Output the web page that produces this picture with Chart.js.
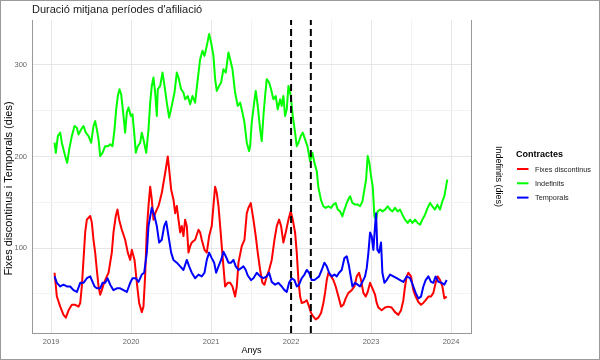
<!DOCTYPE html>
<html><head><meta charset="utf-8">
<script src="https://cdn.jsdelivr.net/npm/chart.js@4"></script>
<style>html,body{margin:0;padding:0;background:#fff}canvas{display:block}</style>
</head><body>
<canvas id="c" width="600" height="360"></canvas>
<script>
const chartTitle = "Duració mitjana períodes d'afiliació";
const leftAxisTitle = "Fixes discontinus i Temporals (dies)";
const seriesNames = ["Fixes discontinus", "Indefinits", "Temporals"];
const seriesColors = ["#ff0000", "#00ff00", "#0000ff"];
const yearTicks = [2019, 2020, 2021, 2022, 2023, 2024];
const leftTicks = [100, 200, 300];
const rightTicks = [500, 1000, 1500];
const eventYears = [2022.0, 2022.247];

const fixesYears = [2019.042,2019.071,2019.113,2019.154,2019.183,2019.217,2019.258,2019.300,2019.342,2019.363,
2019.383,2019.404,2019.425,2019.446,2019.488,2019.508,2019.529,2019.550,2019.571,2019.592,
2019.613,2019.633,2019.654,2019.675,2019.717,2019.758,2019.779,2019.808,2019.829,2019.850,
2019.883,2019.925,2019.958,2019.988,2020.008,2020.042,2020.071,2020.100,2020.133,2020.154,
2020.175,2020.196,2020.217,2020.238,2020.258,2020.279,2020.300,2020.321,2020.342,2020.363,
2020.383,2020.404,2020.433,2020.458,2020.475,2020.500,2020.529,2020.550,2020.571,2020.592,
2020.613,2020.633,2020.654,2020.675,2020.696,2020.717,2020.738,2020.758,2020.800,2020.842,
2020.863,2020.883,2020.917,2020.946,2020.975,2021.008,2021.029,2021.050,2021.071,2021.092,
2021.113,2021.133,2021.154,2021.175,2021.208,2021.238,2021.267,2021.300,2021.321,2021.342,
2021.383,2021.417,2021.446,2021.467,2021.496,2021.529,2021.558,2021.583,2021.613,2021.642,
2021.667,2021.696,2021.725,2021.758,2021.792,2021.821,2021.850,2021.875,2021.904,2021.933,
2021.967,2021.996,2022.021,2022.050,2022.071,2022.092,2022.113,2022.133,2022.167,2022.196,
2022.225,2022.250,2022.279,2022.308,2022.342,2022.375,2022.404,2022.425,2022.446,2022.467,
2022.500,2022.529,2022.558,2022.592,2022.625,2022.654,2022.683,2022.717,2022.758,2022.792,
2022.821,2022.850,2022.875,2022.904,2022.933,2022.958,2022.988,2023.017,2023.050,2023.071,
2023.092,2023.133,2023.175,2023.217,2023.258,2023.300,2023.342,2023.375,2023.404,2023.425,
2023.446,2023.467,2023.500,2023.529,2023.558,2023.592,2023.625,2023.654,2023.683,2023.717,
2023.750,2023.779,2023.808,2023.833,2023.863,2023.892,2023.917,2023.946];
const fixesDays = [73,47,36,27,24,32,38,38,36,40,
58,87,117,131,135,128,109,95,76,58,
49,54,60,65,73,95,117,135,142,131,
120,109,95,87,98,87,62,40,30,36,
70,120,146,167,153,131,138,142,146,153,
160,171,186,200,186,164,153,138,146,131,
117,124,113,131,124,95,102,106,109,120,
117,109,98,95,113,124,146,167,160,146,
124,102,80,58,62,62,58,47,58,84,
102,109,138,144,149,131,113,95,76,62,
60,69,76,87,109,124,131,124,106,117,
131,140,131,117,95,65,47,40,41,43,
36,29,25,22,24,29,40,51,65,73,
69,65,58,47,36,38,45,51,54,58,
69,73,65,51,47,52,62,56,49,40,
35,32,35,36,35,30,27,32,43,58,
69,73,69,54,47,41,38,40,43,47,
47,51,62,69,65,58,45,47];

const tempYears = [2019.042,2019.071,2019.113,2019.154,2019.196,2019.238,2019.279,2019.321,2019.363,2019.404,
2019.446,2019.488,2019.508,2019.542,2019.571,2019.613,2019.642,2019.675,2019.704,2019.738,
2019.779,2019.821,2019.863,2019.904,2019.946,2019.988,2020.017,2020.058,2020.092,2020.133,
2020.163,2020.196,2020.217,2020.258,2020.292,2020.321,2020.350,2020.383,2020.413,2020.438,
2020.467,2020.500,2020.529,2020.571,2020.613,2020.654,2020.696,2020.725,2020.758,2020.800,
2020.842,2020.883,2020.917,2020.946,2020.975,2021.008,2021.038,2021.063,2021.092,2021.125,
2021.154,2021.183,2021.217,2021.250,2021.279,2021.308,2021.342,2021.375,2021.404,2021.433,
2021.458,2021.500,2021.529,2021.571,2021.613,2021.654,2021.696,2021.725,2021.758,2021.800,
2021.842,2021.883,2021.917,2021.946,2021.975,2022.008,2022.042,2022.071,2022.100,2022.133,
2022.167,2022.196,2022.225,2022.258,2022.292,2022.321,2022.350,2022.383,2022.417,2022.446,
2022.475,2022.508,2022.542,2022.571,2022.600,2022.633,2022.667,2022.696,2022.725,2022.738,
2022.767,2022.800,2022.833,2022.863,2022.892,2022.925,2022.946,2022.967,2022.988,2023.008,
2023.029,2023.050,2023.063,2023.079,2023.100,2023.125,2023.142,2023.167,2023.196,2023.238,
2023.279,2023.321,2023.363,2023.404,2023.446,2023.488,2023.529,2023.558,2023.592,2023.625,
2023.654,2023.683,2023.717,2023.750,2023.779,2023.808,2023.842,2023.883,2023.917,2023.946];
const tempDays = [69,62,58,60,58,58,54,52,62,62,
67,69,65,58,56,56,62,62,67,60,
54,56,56,54,52,62,67,67,63,71,
73,95,124,144,135,124,106,109,124,129,
113,95,87,84,80,76,87,80,73,67,
71,69,73,87,95,89,84,73,80,87,
96,91,84,84,87,80,76,78,80,76,
70,65,67,73,69,67,69,73,63,60,
62,58,54,52,62,67,65,58,60,67,
71,76,73,65,65,67,69,76,84,80,
73,69,71,69,73,76,89,91,80,73,
58,62,60,58,63,69,78,95,117,113,
98,124,138,98,95,106,73,62,65,71,
69,67,65,63,69,67,58,51,45,47,
58,65,69,63,62,69,63,62,60,65];

const indefYears = [2019.042,2019.058,2019.083,2019.113,2019.133,2019.154,2019.175,2019.200,2019.225,2019.258,
2019.292,2019.321,2019.342,2019.375,2019.404,2019.433,2019.467,2019.500,2019.529,2019.550,
2019.571,2019.592,2019.613,2019.642,2019.675,2019.708,2019.738,2019.767,2019.792,2019.813,
2019.833,2019.854,2019.875,2019.896,2019.925,2019.946,2019.967,2019.996,2020.017,2020.038,
2020.058,2020.083,2020.113,2020.133,2020.154,2020.188,2020.217,2020.238,2020.258,2020.279,
2020.300,2020.321,2020.333,2020.363,2020.392,2020.417,2020.446,2020.475,2020.508,2020.542,
2020.571,2020.592,2020.625,2020.654,2020.675,2020.708,2020.738,2020.767,2020.800,2020.833,
2020.863,2020.892,2020.917,2020.946,2020.975,2021.000,2021.029,2021.050,2021.071,2021.100,
2021.125,2021.154,2021.183,2021.217,2021.238,2021.267,2021.300,2021.333,2021.363,2021.392,
2021.417,2021.446,2021.475,2021.488,2021.508,2021.538,2021.558,2021.583,2021.613,2021.633,
2021.654,2021.675,2021.696,2021.725,2021.750,2021.779,2021.808,2021.833,2021.863,2021.883,
2021.904,2021.925,2021.946,2021.967,2021.996,2022.021,2022.050,2022.071,2022.092,2022.121,
2022.146,2022.175,2022.204,2022.238,2022.267,2022.292,2022.321,2022.342,2022.375,2022.404,
2022.433,2022.467,2022.500,2022.529,2022.558,2022.583,2022.613,2022.642,2022.667,2022.696,
2022.725,2022.738,2022.767,2022.800,2022.833,2022.863,2022.892,2022.917,2022.938,2022.958,
2022.979,2023.000,2023.021,2023.042,2023.063,2023.083,2023.113,2023.142,2023.175,2023.208,
2023.238,2023.267,2023.300,2023.333,2023.363,2023.392,2023.425,2023.458,2023.488,2023.517,
2023.550,2023.583,2023.613,2023.642,2023.675,2023.708,2023.738,2023.767,2023.800,2023.829,
2023.863,2023.892,2023.917,2023.938,2023.954];
const indefDays = [1075,1020,1111,1130,1075,1038,1002,965,1038,1111,
1166,1157,1120,1148,1166,1130,1111,1075,1166,1193,
1148,1093,1002,1020,1056,1056,1066,1056,1148,1257,
1330,1367,1339,1257,1130,1239,1267,1221,1230,1130,
1020,1056,1075,1130,1093,1020,1148,1294,1385,1431,
1349,1221,1367,1385,1458,1385,1294,1212,1276,1349,
1458,1431,1367,1349,1312,1330,1285,1330,1294,1422,
1531,1577,1549,1604,1668,1622,1549,1422,1358,1385,
1404,1476,1458,1568,1531,1476,1349,1276,1294,1239,
1185,1075,1029,1056,1185,1294,1358,1276,1148,1084,
1221,1330,1422,1404,1367,1312,1330,1257,1312,1276,
1330,1221,1257,1385,1330,1221,1130,1056,1075,1111,
1130,1093,1056,974,1020,965,920,830,760,728,
719,728,719,737,746,710,700,673,710,746,
774,783,746,737,737,728,755,819,874,1002,
965,892,837,673,655,700,710,700,710,728,
710,700,719,700,710,682,655,637,655,637,
655,637,627,655,682,719,746,728,710,737,
710,755,783,837,874];

const leftMin = 7.2, leftMax = 349, axisRatio = 5;
const FONT = '"Liberation Sans", Arial, Helvetica, sans-serif';
const pts = (xs, ys) => xs.map((x, i) => ({x: x, y: ys[i]}));
const lineDs = (label, xs, ys, color, axis) => ({
  label: label, data: pts(xs, ys), borderColor: color, backgroundColor: color,
  borderWidth: 2, pointRadius: 0, tension: 0, fill: false, yAxisID: axis, borderJoinStyle: 'round'
});
const eventDs = eventYears.map(e => ({
  label: 'event', data: [{x: e, y: leftMin}, {x: e, y: leftMax}], borderColor: '#000',
  borderWidth: 2, borderDash: [7, 4], pointRadius: 0, fill: false, yAxisID: 'y'
}));

const decor = {
  id: 'decor',
  beforeDraw(chart) {
    const ctx = chart.ctx; ctx.save(); ctx.fillStyle = '#fff';
    ctx.fillRect(0, 0, chart.width, chart.height); ctx.restore();
  },
  afterDraw(chart) {
    const ctx = chart.ctx; ctx.save();
    ctx.fillStyle = '#1a1a1a'; ctx.font = '11px ' + FONT; ctx.textBaseline = 'alphabetic';
    ctx.fillText(chartTitle, 32, 13);
    // left axis title
    ctx.save();
    ctx.translate(8.5, 188.5); ctx.rotate(-Math.PI / 2);
    ctx.textAlign = 'center'; ctx.textBaseline = 'middle';
    ctx.fillStyle = '#000'; ctx.font = '11px ' + FONT;
    ctx.fillText(leftAxisTitle, 0, 0);
    ctx.restore();
    ctx.font = 'bold 9px ' + FONT; ctx.fillStyle = '#000';
    ctx.fillText('Contractes', 516, 156.5);
    ctx.font = '7.3px ' + FONT; ctx.fillStyle = '#222';
    seriesNames.forEach((n, i) => {
      const y = 169 + i * 14.3;
      ctx.strokeStyle = seriesColors[i]; ctx.lineWidth = 2;
      ctx.beginPath(); ctx.moveTo(517, y); ctx.lineTo(528.5, y); ctx.stroke();
      ctx.fillText(n, 535, y + 2.6);
    });
    ctx.strokeStyle = '#9a9a9a'; ctx.lineWidth = 1;
    ctx.strokeRect(0.5, 0.5, chart.width - 1, chart.height - 1);
    ctx.restore();
  }
};

const gridColor = c => (c.tick && Number.isInteger(c.tick.value / (c.scale.axis === 'x' ? 1 : 100))) ? '#e6e6e6' : '#f3f3f3';

new Chart(document.getElementById('c'), {
  type: 'line',
  data: { datasets: [
    ...eventDs,
    lineDs(seriesNames[2], tempYears, tempDays, seriesColors[2], 'y'),
    lineDs(seriesNames[1], indefYears, indefDays, seriesColors[1], 'y2'),
    lineDs(seriesNames[0], fixesYears, fixesDays, seriesColors[0], 'y')
  ]},
  options: {
    responsive: false, animation: false, devicePixelRatio: 1,
    layout: { padding: { top: 20, right: 96, bottom: 0, left: 0 } },
    plugins: { legend: { display: false }, tooltip: { enabled: false }, title: { display: false } },
    scales: {
      x: {
        type: 'linear', min: 2018.76, max: 2024.25,
        ticks: { stepSize: 0.5, includeBounds: false, autoSkip: false, maxRotation: 0, padding: 4,
          color: '#666', font: { size: 7.5, family: FONT },
          callback: v => yearTicks.includes(v) ? String(v) : '' },
        grid: { color: gridColor, drawTicks: false, lineWidth: 1 },
        border: { display: true, color: '#999', width: 1 },
        title: { display: true, text: 'Anys', color: '#000', font: { size: 9, family: FONT }, padding: { top: 0, bottom: 4 } },
        afterFit: s => { s.height = 27; }
      },
      y: {
        position: 'left', min: leftMin, max: leftMax,
        ticks: { stepSize: 50, includeBounds: false, padding: 5, color: '#666', font: { size: 7.5, family: FONT },
          callback: v => leftTicks.includes(v) ? String(v) : '' },
        grid: { color: gridColor, drawTicks: false, lineWidth: 1 },
        border: { display: true, color: '#999', width: 1 },
        title: { display: false },
        afterFit: s => { s.width = 32; }
      },
      y2: {
        position: 'right', min: leftMin * axisRatio, max: leftMax * axisRatio,
        ticks: { stepSize: 250, includeBounds: false, padding: 4, color: '#666', font: { size: 7.5, family: FONT },
          callback: v => rightTicks.includes(v) ? String(v) : '' },
        grid: { display: false, drawTicks: false },
        border: { display: true, color: '#999', width: 1 },
        title: { display: true, text: 'Indefinits (dies)', color: '#000', font: { size: 9, family: FONT }, padding: { top: 0, bottom: 0 } },
        afterFit: s => { s.width = 33; }
      }
    }
  },
  plugins: [decor]
});
</script>
</body></html>
